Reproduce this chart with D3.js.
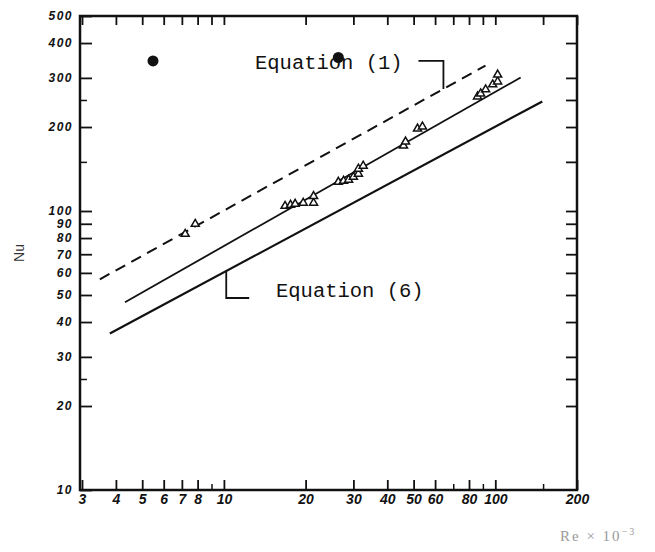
<!DOCTYPE html>
<html>
<head>
    <script src="https://d3js.org/d3.v7.min.js"></script>
    <style>
        body { margin: 0; background: #fff; }
        .ticklab { font-family: "Liberation Sans", Arial, sans-serif; font-style: italic; font-weight: bold; fill: #111; }
        .ylab { font-size: 12px; letter-spacing: 1.5px; }
        .xlab { font-size: 14px; }
        .eqlab { font-family: "Liberation Mono", "DejaVu Sans Mono", monospace; font-size: 20.5px; fill: #111; }
    </style>
</head>
<body>
    <svg width="655" height="552"></svg>
    <script>
        // x: Re x 10^-3, y: Nu (log-log)
        const xTicks = [3, 4, 5, 6, 7, 8, 10, 20, 30, 40, 50, 60, 80, 100, 200];
        const xMinor = [9, 70, 90, 150];
        const yTicks = [10, 20, 30, 40, 50, 60, 70, 80, 90, 100, 200, 300, 400, 500];
        const yMinor = [25, 150, 250];

        // measured points (open triangles)
        const pointsRe = [7.2, 7.84, 16.8, 17.6, 18.3, 19.6, 21.4, 21.4, 26.4, 27.6, 28.8, 30, 31.3, 31.3, 32.6, 45.9, 46.7, 51.7, 53.9, 86, 88.3, 92.1, 97.8, 102, 102];
        const pointsNu = [82.7, 89.8, 104.2, 105.1, 106, 106.9, 106.9, 113, 127.1, 128.2, 129.3, 132.5, 135.9, 141.6, 145.2, 171.4, 177.1, 197.2, 200.6, 257, 263.5, 272.5, 284, 291, 308];

        // lines: endpoints [Re, Nu]
        const eq1Line = [[3.49, 56.9], [92, 332]];
        const fitLine = [[4.32, 47.1], [124, 301]];
        const eq6Line = [[3.8, 36.4], [149, 247]];

        // dark spots on the scan
        const spotsRe = [5.48, 26.4];
        const spotsNu = [345, 355];

        const svg = d3.select("svg");
        const x = d3.scaleLog().domain([3, 200]).range([82, 577]);
        const y = d3.scaleLog().domain([10, 500]).range([490, 16]);

        // frame
        svg.append("rect")
            .attr("x", x(3) - 2).attr("y", y(500))
            .attr("width", x(200) - x(3) + 2).attr("height", y(10) - y(500))
            .attr("fill", "none").attr("stroke", "#111").attr("stroke-width", 2.5);

        // bottom axis
        const bottomAxis = d3.axisBottom(x).tickValues(xTicks).tickFormat(d => d).tickSizeInner(-10).tickSizeOuter(0).tickPadding(4);
        const gb = svg.append("g").attr("transform", `translate(0,${y(10)})`).call(bottomAxis);
        gb.select(".domain").remove();
        gb.selectAll(".tick line").attr("stroke", "#111").attr("stroke-width", 1.8);
        gb.selectAll("text").attr("class", "ticklab xlab").attr("fill", null).attr("font-size", null).attr("font-family", null);

        const bottomMinor = d3.axisBottom(x).tickValues(xMinor).tickFormat("").tickSizeInner(-6).tickSizeOuter(0);
        const gbm = svg.append("g").attr("transform", `translate(0,${y(10)})`).call(bottomMinor);
        gbm.select(".domain").remove();
        gbm.selectAll(".tick line").attr("stroke", "#111").attr("stroke-width", 1.5);

        // top axis (ticks only)
        const topAxis = d3.axisTop(x).tickValues(xTicks.concat(xMinor)).tickFormat("").tickSizeInner(-9).tickSizeOuter(0);
        const gt = svg.append("g").attr("transform", `translate(0,${y(500)})`).call(topAxis);
        gt.select(".domain").remove();
        gt.selectAll(".tick line").attr("stroke", "#111").attr("stroke-width", 1.8);

        // left axis
        const leftAxis = d3.axisLeft(y).tickValues(yTicks).tickFormat(d => d).tickSizeInner(-12).tickSizeOuter(0).tickPadding(7);
        const gl = svg.append("g").attr("transform", `translate(${x(3) - 2},0)`).call(leftAxis);
        gl.select(".domain").remove();
        gl.selectAll(".tick line").attr("stroke", "#111").attr("stroke-width", 1.8);
        gl.selectAll("text").attr("class", "ticklab ylab").attr("fill", null).attr("font-size", null).attr("font-family", null);

        const leftMinor = d3.axisLeft(y).tickValues(yMinor).tickFormat("").tickSizeInner(-7).tickSizeOuter(0);
        const glm = svg.append("g").attr("transform", `translate(${x(3) - 2},0)`).call(leftMinor);
        glm.select(".domain").remove();
        glm.selectAll(".tick line").attr("stroke", "#111").attr("stroke-width", 1.5);

        // right axis (ticks only)
        const rightAxis = d3.axisRight(y).tickValues(yTicks.slice(1, -1).concat(yMinor)).tickFormat("").tickSizeInner(-11).tickSizeOuter(0);
        const gr = svg.append("g").attr("transform", `translate(${x(200)},0)`).call(rightAxis);
        gr.select(".domain").remove();
        gr.selectAll(".tick line").attr("stroke", "#111").attr("stroke-width", 1.8);

        // lines
        const line = d3.line().x(d => x(d[0])).y(d => y(d[1]));
        svg.append("path").attr("d", line(eq1Line)).attr("fill", "none")
            .attr("stroke", "#111").attr("stroke-width", 2).attr("stroke-dasharray", "11,7");
        svg.append("path").attr("d", line(fitLine)).attr("fill", "none")
            .attr("stroke", "#111").attr("stroke-width", 1.8);
        svg.append("path").attr("d", line(eq6Line)).attr("fill", "none")
            .attr("stroke", "#111").attr("stroke-width", 2.2);

        // points
        const tri = d3.symbol().type(d3.symbolTriangle).size(28);
        svg.append("g").selectAll("path")
            .data(pointsRe.map((r, i) => [r, pointsNu[i]]))
            .join("path")
            .attr("d", tri)
            .attr("transform", d => `translate(${x(d[0])},${y(d[1])})`)
            .attr("fill", "#fff").attr("stroke", "#111").attr("stroke-width", 1.5);

        // value on a line (log-log interpolation)
        function onLine(l, re) {
            const t = (Math.log(re) - Math.log(l[0][0])) / (Math.log(l[1][0]) - Math.log(l[0][0]));
            return Math.exp(Math.log(l[0][1]) + t * (Math.log(l[1][1]) - Math.log(l[0][1])));
        }

        // Equation (1) label and leader
        const a1 = 64.4;
        const ax1 = x(a1), ay1 = y(onLine(eq1Line, a1));
        svg.append("path")
            .attr("d", `M${ax1 - 25},${ay1 - 28}H${ax1}V${ay1}`)
            .attr("fill", "none").attr("stroke", "#111").attr("stroke-width", 1.8);
        svg.append("text").attr("class", "eqlab").attr("x", 255).attr("y", 69).text("Equation (1)");

        // Equation (6) label and leader
        const a6 = 10.2;
        const ax6 = x(a6), ay6 = y(onLine(eq6Line, a6));
        svg.append("path")
            .attr("d", `M${ax6},${ay6}V${ay6 + 27}H${ax6 + 23}`)
            .attr("fill", "none").attr("stroke", "#111").attr("stroke-width", 1.8);
        svg.append("text").attr("class", "eqlab").attr("x", 276).attr("y", 297).text("Equation (6)");

        // spots on the scan (drawn over the text, as in the original)
        svg.append("g").selectAll("circle")
            .data(spotsRe.map((r, i) => [r, spotsNu[i]]))
            .join("circle")
            .attr("cx", d => x(d[0])).attr("cy", d => y(d[1])).attr("r", 5.5)
            .attr("fill", "#111");

        // axis titles
        svg.append("text")
            .attr("transform", "translate(24,253) rotate(-90)")
            .attr("text-anchor", "middle")
            .style("font-family", "Liberation Sans, Arial, sans-serif")
            .style("font-size", "14px")
            .attr("fill", "#333")
            .text("Nu");

        const xt = svg.append("text")
            .attr("x", 560).attr("y", 541)
            .style("font-family", "Liberation Serif, serif")
            .style("font-size", "15px")
            .style("letter-spacing", "2px")
            .attr("fill", "#999");
        xt.append("tspan").text("Re × 10");
        xt.append("tspan").attr("dy", -6).style("font-size", "10px").text("−3");
    </script>
</body>
</html>
